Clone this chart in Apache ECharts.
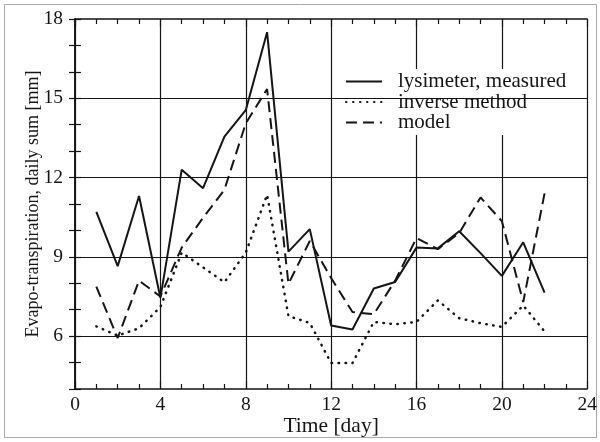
<!DOCTYPE html>
<html>
<head>
<meta charset="utf-8">
<script src="https://cdn.jsdelivr.net/npm/echarts@6/dist/echarts.min.js"></script>
<style>html,body{margin:0;padding:0;background:#fff;}#c{width:600px;height:442px;}</style>
</head>
<body>
<div id="c"></div>
<script>
var days = [1,2,3,4,5,6,7,8,9,10,11,12,13,14,15,16,17,18,19,20,21,22];
var lysimeter = [10.7,8.65,11.3,7.45,12.3,11.6,13.55,14.55,17.5,9.2,10.05,6.4,6.25,7.8,8.05,9.35,9.32,9.97,9.14,8.28,9.55,7.65];
var inverse = [6.37,6.02,6.3,7.1,9.16,8.6,8.04,9.16,11.35,6.76,6.5,4.98,4.98,6.54,6.45,6.54,7.35,6.68,6.49,6.35,7.16,6.18];
var model = [7.87,5.93,8.1,7.5,9.35,10.48,11.54,14.05,15.35,7.98,9.6,8.2,6.91,6.83,8.1,9.71,9.29,9.9,11.25,10.35,7.29,11.4];
var yGridValues = [6,9,12,15];
var seriesNames = ['lysimeter, measured','inverse method','model'];

function pairs(vals){ return days.map(function(d,i){ return [d, vals[i]]; }); }
var ink = '#151515';
var font = 'Liberation Serif';

var chart = echarts.init(document.getElementById('c'), null, {renderer:'canvas'});
var xCommon = {
  type:'value', min:0, max:24, interval:4,
  axisLine:{show:true, lineStyle:{color:ink, width:1.5}},
  axisTick:{show:true, inside:true, length:8, lineStyle:{color:ink, width:1.2}},
  minorTick:{show:true, splitNumber:4, length:5, lineStyle:{color:ink, width:1.2}},
};
var yCommon = {
  type:'value', min:4, max:18, interval:1,
  axisLine:{show:true, lineStyle:{color:ink, width:1.5}},
  axisTick:{show:true, inside:true, length:6, lineStyle:{color:ink, width:1.2}},
  splitLine:{show:false}
};
chart.setOption({
  animation:false,
  backgroundColor:'#fff',
  textStyle:{fontFamily:font},
  graphic:[{type:'rect', shape:{x:4.5,y:4.5,width:592,height:433}, style:{fill:null, stroke:'#aaa', lineWidth:1}, z:-1}],
  grid:{left:75, top:19, width:515, height:371, containLabel:false},
  legend:{
    orient:'vertical', left:339, top:69, padding:[2,6,2,6], itemGap:-0.5,
    itemWidth:36, itemHeight:18, backgroundColor:'#fff',
    itemStyle:{opacity:0},
    textStyle:{fontFamily:font, fontSize:21, lineHeight:18, color:ink, padding:[0,0,0,11]},
    data:seriesNames
  },
  xAxis:[
    Object.assign({}, xCommon, {position:'bottom',
      name:'Time [day]', nameLocation:'middle', nameGap:26, nameMoveOverlap:false,
      nameTextStyle:{fontFamily:font, fontSize:21.5, color:ink},
      axisLabel:{show:true, margin:6, fontFamily:font, fontSize:19.5, color:ink},
      splitLine:{show:true, lineStyle:{color:ink, width:1.2}}}),
    Object.assign({}, xCommon, {position:'top', axisLabel:{show:false}, splitLine:{show:false}})
  ],
  yAxis:[
    Object.assign({}, yCommon, {position:'left',
      name:'Evapo-transpiration, daily sum [mm]', nameLocation:'middle', nameGap:33, nameMoveOverlap:false,
      nameTextStyle:{fontFamily:font, fontSize:18, color:ink},
      axisLabel:{show:true, margin:12, fontFamily:font, fontSize:19.5, color:ink,
        formatter:function(v){ return v % 3 === 0 ? String(v) : ''; }}}),
    Object.assign({}, yCommon, {position:'right', axisLabel:{show:false}})
  ],
  series:[
    {name:seriesNames[0], type:'line', data:pairs(lysimeter), showSymbol:false, symbol:'none',
     lineStyle:{color:ink, width:2, type:'solid'}, itemStyle:{color:ink}, z:5,
     markLine:{silent:true, symbol:'none', label:{show:false}, animation:false,
       lineStyle:{color:ink, width:1.2, type:'solid'},
       data:yGridValues.map(function(v){ return {yAxis:v}; })}},
    {name:seriesNames[1], type:'line', data:pairs(inverse), showSymbol:false, symbol:'none',
     lineStyle:{color:ink, width:2.5, type:[0.5,6.5], cap:'round'}, itemStyle:{color:ink}, z:5},
    {name:seriesNames[2], type:'line', data:pairs(model), showSymbol:false, symbol:'none',
     lineStyle:{color:ink, width:2, type:[11,6]}, itemStyle:{color:ink}, z:5}
  ]
});
</script>
</body>
</html>
